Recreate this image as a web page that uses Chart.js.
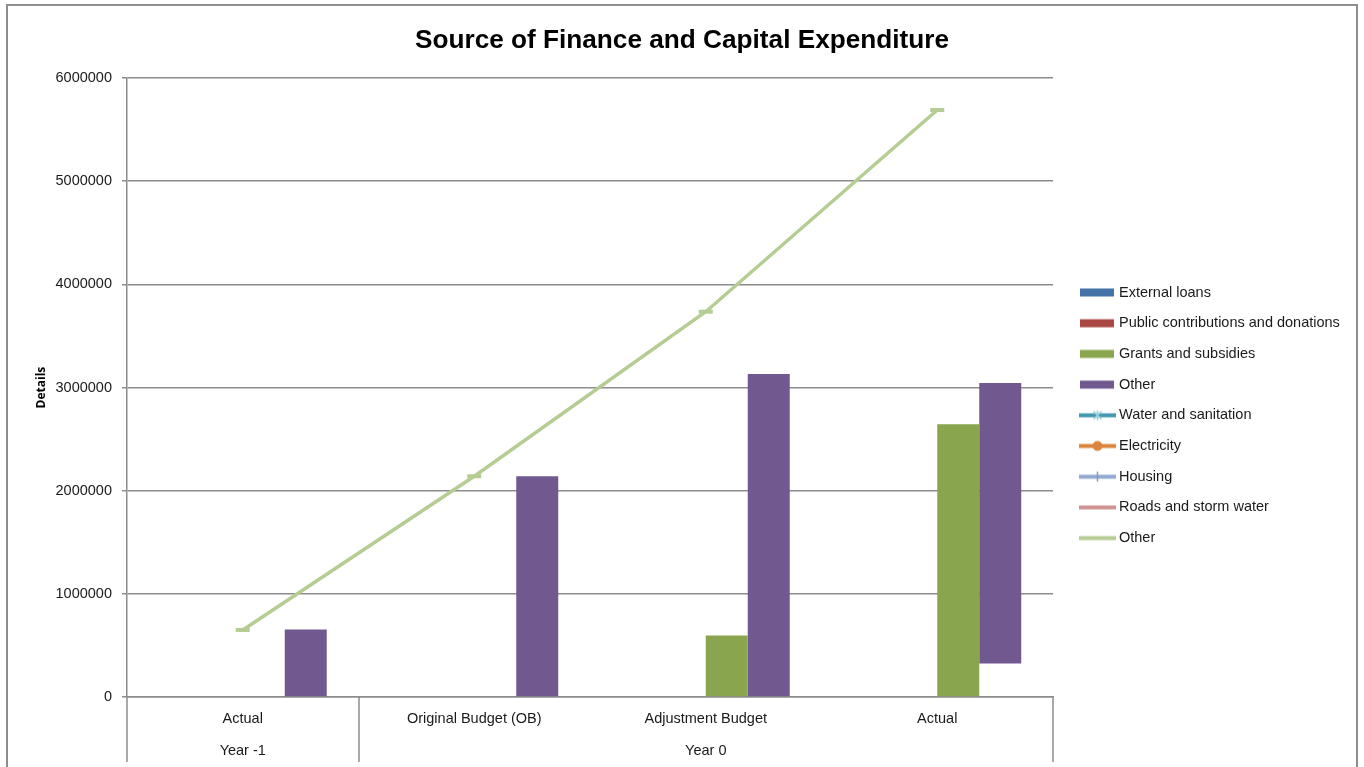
<!DOCTYPE html>
<html>
<head>
<meta charset="utf-8">
<script src="https://cdn.jsdelivr.net/npm/chart.js@4.4.1/dist/chart.umd.min.js"></script>
<style>
html,body{margin:0;padding:0;background:#fff;}
#wrap{position:relative;width:1364px;height:767px;overflow:hidden;}
#frame{position:absolute;left:6px;top:4px;width:1352px;height:900px;border:2px solid #8d8d8d;box-sizing:border-box;pointer-events:none;}
</style>
</head>
<body>
<div id="wrap"><canvas id="c" width="1364" height="767"></canvas><div id="frame"></div></div>
<script>
// ---- data ----
const categories = ['Actual', 'Original Budget (OB)', 'Adjustment Budget', 'Actual'];
const groupLabels = ['Year -1', 'Year 0'];
const groupSpans = [1, 3];
const yTicks = [0, 1000000, 2000000, 3000000, 4000000, 5000000, 6000000];

const externalLoans = [null, null, null, null];
const publicContributions = [null, null, null, null];
const grantsSubsidies = [null, null, 595000, 2645000];
const otherFinance = [655000, 2140000, 3130000, 3045000];
const otherFinanceBase = [0, 0, 0, 325000];

const waterSanitation = [null, null, null, null];
const electricity = [null, null, null, null];
const housing = [null, null, null, null];
const roadsStormWater = [null, null, null, null];
const otherExpenditure = [650000, 2140000, 3735000, 5690000];

// ---- styling ----
const FONT = "'Liberation Sans', Arial, sans-serif";
const axisColor = '#8c8c8c';
const legendFontSize = 14.5;
const legendPadding = 16.2;
const pointStyleW = 42.55;
const targetRight = 1053;

Chart.defaults.font.family = FONT;

function legendImage(kind, color, marker) {
  const c = document.createElement('canvas');
  c.width = 51; c.height = 13;
  const g = c.getContext('2d');
  if (kind === 'bar') {
    g.fillStyle = color;
    g.fillRect(15, 2.5, 34, 8);
  } else {
    g.strokeStyle = color; g.lineWidth = 4; g.lineCap = 'butt';
    g.beginPath(); g.moveTo(14, 6.5); g.lineTo(51, 6.5); g.stroke();
    const cx = 32.5, cy = 6.5;
    if (marker === 'star') {
      g.strokeStyle = '#9ad0e0'; g.lineWidth = 1.5;
      g.beginPath();
      g.moveTo(cx - 4, cy - 4); g.lineTo(cx + 4, cy + 4);
      g.moveTo(cx - 4, cy + 4); g.lineTo(cx + 4, cy - 4);
      g.moveTo(cx, cy - 5); g.lineTo(cx, cy + 5);
      g.stroke();
    } else if (marker === 'circle') {
      g.fillStyle = color; g.beginPath(); g.arc(cx, cy, 5, 0, Math.PI * 2); g.fill();
    } else if (marker === 'plus') {
      g.strokeStyle = '#7f97c4'; g.lineWidth = 1.5;
      g.beginPath(); g.moveTo(cx, cy - 5); g.lineTo(cx, cy + 5); g.stroke();
    }
  }
  return c;
}

function barDs(label, data, color) {
  return { type: 'bar', label, data, backgroundColor: color, borderWidth: 0,
    categoryPercentage: 0.7257, barPercentage: 1, _legend: legendImage('bar', color) };
}
function lineDs(label, data, color, marker) {
  return { type: 'line', label, data, borderColor: color, backgroundColor: color,
    borderWidth: 3.5, tension: 0, pointStyle: 'line', pointRadius: 7, pointBorderWidth: 4,
    pointBorderColor: color, pointBackgroundColor: color, fill: false,
    _legend: legendImage('line', color, marker) };
}

const datasets = [
  barDs('External loans', externalLoans, '#4572A7'),
  barDs('Public contributions and donations', publicContributions, '#AA4643'),
  barDs('Grants and subsidies', grantsSubsidies, '#89A54E'),
  barDs('Other', otherFinance.map((v, i) => [otherFinanceBase[i], v]), '#71588F'),
  lineDs('Water and sanitation', waterSanitation, '#4198AF', 'star'),
  lineDs('Electricity', electricity, '#DB843D', 'circle'),
  lineDs('Housing', housing, '#93A9CF', 'plus'),
  lineDs('Roads and storm water', roadsStormWater, '#D19392', null),
  lineDs('Other', otherExpenditure, '#B5CD93', null)
];

// measure legend text width to place the plot's right edge
const mctx = document.createElement('canvas').getContext('2d');
mctx.font = legendFontSize + 'px ' + FONT;
const maxText = Math.max(...datasets.map(d => mctx.measureText(d.label).width));
const legendW = legendPadding + pointStyleW + legendFontSize / 2 + maxText + 10;
const sidePad = Math.max(0, 1364 - targetRight - legendW);
const yAxisWidth = 127 - sidePad;

// group centers on a 0..N linear scale
const groupCenters = [];
{ let acc = 0; groupSpans.forEach(n => { groupCenters.push(acc + n / 2); acc += n; }); }

const separators = {
  id: 'separators',
  afterDraw(chart) {
    const { ctx, chartArea } = chart;
    const s = chart.scales.x2;
    const bounds = [0];
    let acc = 0;
    groupSpans.forEach(n => { acc += n; bounds.push(acc); });
    ctx.save();
    ctx.strokeStyle = axisColor; ctx.lineWidth = 1.5;
    bounds.forEach(b => {
      const px = Math.round(s.getPixelForValue(b));
      ctx.beginPath(); ctx.moveTo(px, chartArea.bottom); ctx.lineTo(px, 762); ctx.stroke();
    });
    ctx.restore();
  }
};

new Chart(document.getElementById('c'), {
  type: 'bar',
  data: { labels: categories, datasets },
  plugins: [separators],
  options: {
    responsive: false, animation: false, devicePixelRatio: 1, events: [],
    layout: { padding: { left: sidePad, right: sidePad, top: 0, bottom: 0 } },
    plugins: {
      tooltip: { enabled: false },
      title: {
        display: true, text: 'Source of Finance and Capital Expenditure', color: '#000',
        font: { family: FONT, size: 26.2, weight: 'bold', lineHeight: 1.2 },
        padding: { top: 25, bottom: 21.6 }
      },
      legend: {
        position: 'right', align: 'center',
        title: { display: true, text: ' ', font: { size: 12, lineHeight: 1.2 }, padding: { top: 24.6, bottom: 24.6 } },
        labels: {
          usePointStyle: true, pointStyleWidth: pointStyleW, padding: legendPadding,
          color: '#1a1a1a', font: { size: legendFontSize },
          generateLabels: (chart) => chart.data.datasets.map((d, i) => ({
            text: d.label, fillStyle: 'rgba(0,0,0,0)', strokeStyle: 'rgba(0,0,0,0)', lineWidth: 0,
            hidden: false, datasetIndex: i, pointStyle: d._legend, fontColor: '#1a1a1a'
          }))
        }
      }
    },
    scales: {
      x: {
        type: 'category', position: 'bottom', offset: true, weight: 0,
        grid: { display: false, drawTicks: false, tickLength: 0 },
        border: { display: true, color: axisColor, width: 1.5 },
        ticks: { color: '#1a1a1a', font: { size: 14.5 }, padding: 13.3, maxRotation: 0, autoSkip: false },
        afterFit: (s) => { s.height = 38; }
      },
      x2: {
        type: 'linear', position: 'bottom', weight: 1, offset: false,
        min: 0, max: groupSpans.reduce((a, b) => a + b, 0),
        grid: { display: false, drawTicks: false, tickLength: 0, offset: false },
        border: { display: false },
        ticks: { color: '#1a1a1a', font: { size: 14.5 }, padding: 7.3, maxRotation: 0, autoSkip: false,
          callback: (v, i) => groupLabels[i] },
        afterBuildTicks: (s) => { s.ticks = groupCenters.map(v => ({ value: v })); },
        afterFit: (s) => { s.height = 32; }
      },
      y: {
        position: 'left', min: 0, max: 6000000,
        grid: { color: axisColor, lineWidth: 1.5, tickLength: 5, drawTicks: true },
        border: { display: true, color: axisColor, width: 1.5 },
        ticks: { color: '#1a1a1a', font: { size: 14.5 }, padding: 10, stepSize: 1000000,
          callback: (v) => String(v) },
        afterBuildTicks: (s) => { s.ticks = yTicks.map(v => ({ value: v })); },
        title: { display: true, text: 'Details', color: '#000',
          font: { family: "'Open Sans', sans-serif", size: 12, weight: 'bold' },
          padding: { top: 34 - sidePad, bottom: 0 } },
        afterFit: (s) => { s.width = yAxisWidth; }
      }
    }
  }
});
</script>
</body>
</html>
